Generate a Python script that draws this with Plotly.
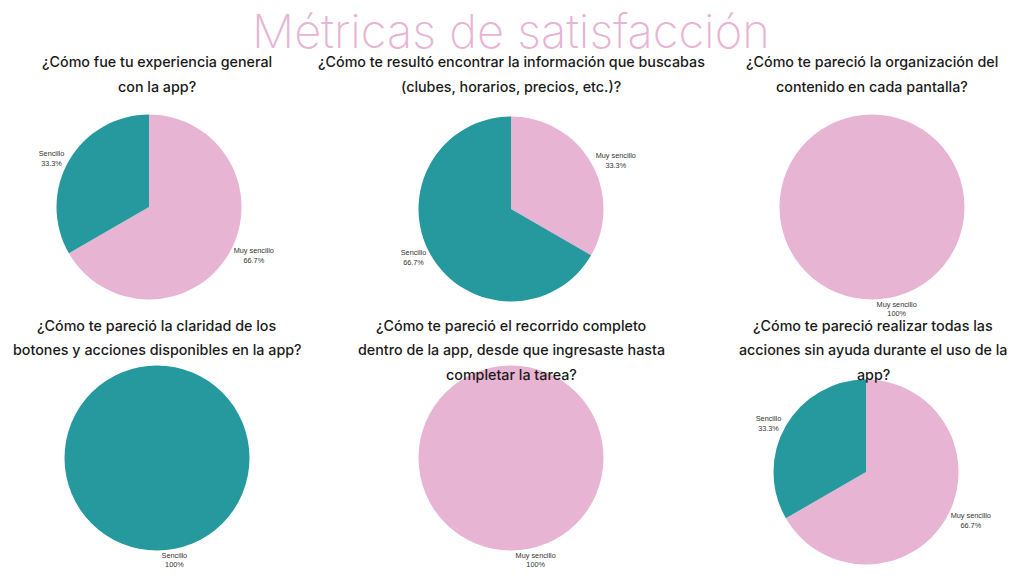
import plotly.graph_objects as go

W, H = 1024, 576

TEAL = "#26999F"
PINK = "#E8B4D3"

categorias = ["Muy sencillo", "Sencillo"]
colores = {"Sencillo": TEAL, "Muy sencillo": PINK}

preguntas = [
    ["¿Cómo fue tu experiencia general", "con la app?"],
    ["¿Cómo te resultó encontrar la información que buscabas", "(clubes, horarios, precios, etc.)?"],
    ["¿Cómo te pareció la organización del", "contenido en cada pantalla?"],
    ["¿Cómo te pareció la claridad de los", "botones y acciones disponibles en la app?"],
    ["¿Cómo te pareció el recorrido completo", "dentro de la app, desde que ingresaste hasta", "completar la tarea?"],
    ["¿Cómo te pareció realizar todas las", "acciones sin ayuda durante el uso de la", "app?"],
]

# respuestas por pregunta: [Muy sencillo, Sencillo]
respuestas = [
    [2, 1],
    [1, 2],
    [3, 0],
    [0, 3],
    [3, 0],
    [2, 1],
]

# layout in pixels: pie centre, radius, title centre x, first title line y
centros = [(149, 207), (511, 209), (872, 207), (157, 458), (511, 458), (866, 472)]
radio = 92.5
titulo_x = [157, 511, 872, 157, 511, 873]
titulo_y = [62, 62, 62, 325, 325, 325]
interlinea = 24.5

fig = go.Figure()

for i, vals in enumerate(respuestas):
    labels = [c for c, v in zip(categorias, vals) if v > 0]
    values = [v for v in vals if v > 0]
    cx, cy = centros[i]
    fig.add_trace(go.Pie(
        labels=labels,
        values=values,
        sort=False,
        direction="counterclockwise",
        rotation=0,
        marker=dict(colors=[colores[l] for l in labels]),
        textinfo="label+percent",
        textposition="outside",
        outsidetextfont=dict(size=7.3, color="#333333", family="Liberation Sans"),
        showlegend=False,
        hoverinfo="label+percent",
        domain=dict(
            x=[(cx - radio) / W, (cx + radio) / W],
            y=[1 - (cy + radio) / H, 1 - (cy - radio) / H],
        ),
    ))
    for j, linea in enumerate(preguntas[i]):
        fig.add_annotation(
            text=linea,
            x=titulo_x[i] / W,
            y=1 - (titulo_y[i] + j * interlinea) / H,
            xref="paper", yref="paper",
            xanchor="center", yanchor="middle",
            showarrow=False,
            font=dict(family="Inter", size=14.3, color="#1a1a1a", weight=500),
        )

fig.add_annotation(
    text="Métricas de satisfacción",
    x=511 / W, y=1,
    xref="paper", yref="paper",
    xanchor="center", yanchor="top",
    showarrow=False,
    font=dict(family="Inter", size=47, color=PINK, weight=200),
)

fig.update_layout(
    width=W, height=H,
    margin=dict(l=0, r=0, t=0, b=0),
    paper_bgcolor="white",
    plot_bgcolor="white",
)

fig.write_html(
    "out.html",
    config={"displayModeBar": False},
    post_script="document.body.style.margin = '0';",
)
